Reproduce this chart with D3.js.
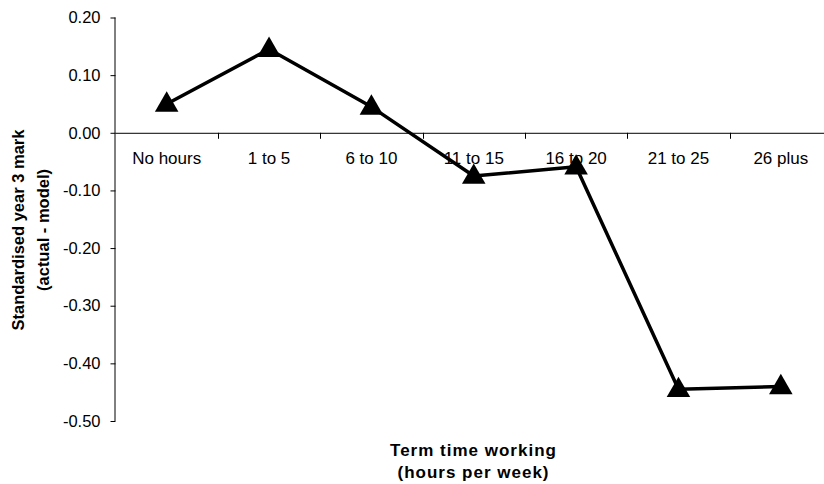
<!DOCTYPE html>
<html>
<head>
<meta charset="utf-8">
<script src="https://cdn.jsdelivr.net/npm/d3@7"></script>
<style>
  body { margin: 0; background: #fff; }
  svg { display: block; font-family: "Liberation Sans", Arial, sans-serif; }
</style>
</head>
<body>
<div id="chart"></div>
<script>
// Set up dimensions
const width = 824;
const height = 484;
const margin = { top: 17.5, left: 115.5, bottom: 63, rightEdge: 832 };

// Data
const categories = ["No hours", "1 to 5", "6 to 10", "11 to 15", "16 to 20", "21 to 25", "26 plus"];
const values = [0.05, 0.145, 0.045, -0.075, -0.059, -0.445, -0.44];
const yTicks = [0.2, 0.1, 0, -0.1, -0.2, -0.3, -0.4, -0.5];

const data = categories.map((c, i) => ({ cat: c, value: values[i] }));

// Scales
const x = d3.scaleBand()
  .domain(categories)
  .range([margin.left, margin.rightEdge]);

const y = d3.scaleLinear()
  .domain([-0.5, 0.2])
  .range([height - margin.bottom, margin.top]);

const svg = d3.select("#chart")
  .append("svg")
  .attr("width", width)
  .attr("height", height);

// Y axis
const yAxis = svg.append("g")
  .attr("transform", `translate(${margin.left}, 0)`)
  .call(d3.axisLeft(y).tickValues(yTicks).tickSize(5).tickPadding(10));
yAxis.select(".domain").attr("stroke", "#000").attr("d", `M-0.5,${y(0.2)}V${y(-0.5)}`);
yAxis.selectAll(".tick line").attr("stroke", "#000");
yAxis.selectAll("text").attr("font-size", 16.5).attr("fill", "#000")
  .text(d => d3.format(".2f")(d).replace("−", "-"));

// X axis at zero, ticks between categories
const xAxis = svg.append("g")
  .attr("transform", `translate(0, ${y(0)})`);
xAxis.append("path")
  .attr("stroke", "#000")
  .attr("d", `M${margin.left},0.5H${margin.rightEdge}`);
xAxis.selectAll("line.sep")
  .data(categories.slice(1))
  .join("line")
  .attr("class", "sep")
  .attr("x1", d => Math.round(x(d)) + 0.5)
  .attr("x2", d => Math.round(x(d)) + 0.5)
  .attr("y1", 0)
  .attr("y2", 6)
  .attr("stroke", "#000");
xAxis.selectAll("text.cat")
  .data(categories)
  .join("text")
  .attr("class", "cat")
  .attr("x", d => x(d) + x.bandwidth() / 2)
  .attr("y", 31)
  .attr("text-anchor", "middle")
  .attr("font-size", 17)
  .text(d => d);

// Line
const line = d3.line()
  .x(d => x(d.cat) + x.bandwidth() / 2)
  .y(d => y(d.value));

svg.append("path")
  .datum(data)
  .attr("fill", "none")
  .attr("stroke", "#000")
  .attr("stroke-width", 3.5)
  .attr("stroke-linejoin", "round")
  .attr("d", line);

// Triangle markers
const tri = d3.symbol().type(d3.symbolTriangle).size(240);
svg.selectAll("path.marker")
  .data(data)
  .join("path")
  .attr("class", "marker")
  .attr("transform", d => `translate(${x(d.cat) + x.bandwidth() / 2}, ${y(d.value) + 1})`)
  .attr("d", tri)
  .attr("fill", "#000");

// Axis titles
const xTitle = svg.append("g")
  .attr("font-size", 17)
  .attr("font-weight", "bold")
  .attr("letter-spacing", 1)
  .attr("text-anchor", "middle");
xTitle.append("text")
  .attr("x", 473.5)
  .attr("y", 456)
  .text("Term time working");
xTitle.append("text")
  .attr("x", 473.5)
  .attr("y", 478)
  .text("(hours per week)");

const yTitle = svg.append("g")
  .attr("transform", `translate(0, 230) rotate(-90)`)
  .attr("font-size", 16.5)
  .attr("font-weight", "bold")
  .attr("text-anchor", "middle");
yTitle.append("text")
  .attr("x", 0)
  .attr("y", 24)
  .text("Standardised year 3 mark");
yTitle.append("text")
  .attr("x", 0)
  .attr("y", 49)
  .text("(actual - model)");
</script>
</body>
</html>
